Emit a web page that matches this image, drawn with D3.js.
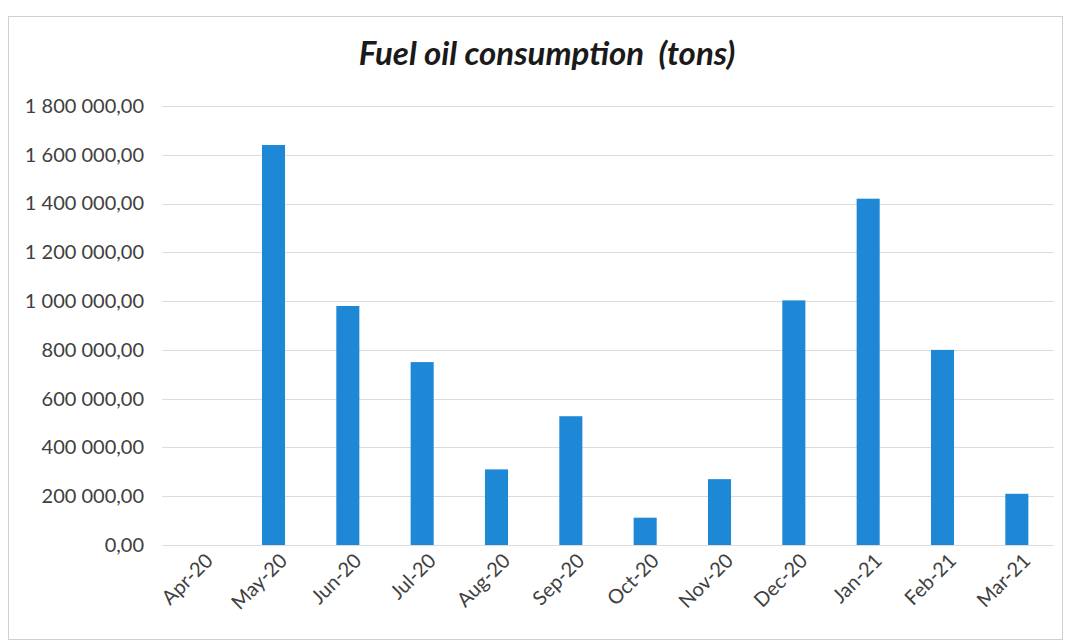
<!DOCTYPE html>
<html><head><meta charset="utf-8">
<script src="https://cdn.jsdelivr.net/npm/d3@7"></script>
<style>body{margin:0;background:#fff}svg{display:block}</style>
</head><body><svg id="c" width="1071" height="643"></svg>
<script>
const categories = ["Apr-20","May-20","Jun-20","Jul-20","Aug-20","Sep-20","Oct-20","Nov-20","Dec-20","Jan-21","Feb-21","Mar-21"];
const values = [0,1640000,980000,750000,310000,528000,112000,270000,1003000,1420000,800000,210000];
const yTicks = [0,200000,400000,600000,800000,1000000,1200000,1400000,1600000,1800000];
const title = "Fuel oil consumption  (tons)";

const svg = d3.select("#c");
const m = {left:162, right:1054, top:106, bottom:545};

svg.append("rect").attr("x",8.5).attr("y",16.5).attr("width",1054).attr("height",623)
  .attr("fill","#fff").attr("stroke","#d0d0d0").attr("stroke-width",1);

const x = d3.scaleBand().domain(categories).range([m.left,m.right]).paddingInner(0.69).paddingOuter(0.345);
const y = d3.scaleLinear().domain([0,1800000]).range([m.bottom,m.top]);

const fmt = v => d3.format(",.2f")(v).replace(/,/g," ").replace(".",",");

svg.append("g").selectAll("line").data(yTicks).join("line")
  .attr("x1",m.left).attr("x2",m.right)
  .attr("y1",d=>Math.round(y(d))+0.5).attr("y2",d=>Math.round(y(d))+0.5)
  .attr("stroke","#dcdcdc").attr("stroke-width",1);

const ya = svg.append("g").attr("transform",`translate(${m.left},0)`)
  .call(d3.axisLeft(y).tickValues(yTicks).tickFormat(fmt).tickSize(0).tickPadding(18));
ya.select(".domain").remove();
ya.selectAll("text").attr("font-family","Lato, 'Open Sans', sans-serif").attr("font-size",20).attr("fill","#404040");

svg.append("g").selectAll("rect").data(categories.map((c,i)=>({c,v:values[i]}))).join("rect")
  .attr("x",d=>x(d.c)).attr("width",x.bandwidth())
  .attr("y",d=>y(d.v)).attr("height",d=>y(0)-y(d.v))
  .attr("fill","#1f88d6");

const xa = svg.append("g").attr("transform",`translate(0,${m.bottom})`)
  .call(d3.axisBottom(x).tickSize(0));
xa.select(".domain").remove();
xa.selectAll("text").attr("font-family","Lato, 'Open Sans', sans-serif").attr("font-size",20).attr("fill","#404040")
  .attr("text-anchor","end").attr("x",0).attr("y",0).attr("dy","0.35em")
  .attr("transform","translate(10,12) rotate(-45)");

svg.append("text").attr("x",547).attr("y",65).attr("text-anchor","middle")
  .attr("xml:space","preserve").style("white-space","pre")
  .attr("font-family","Lato, 'Open Sans', sans-serif").attr("font-size",33).attr("font-style","italic").attr("font-weight","bold")
  .attr("fill","#1a1a1a").text(title);
</script></body></html>
